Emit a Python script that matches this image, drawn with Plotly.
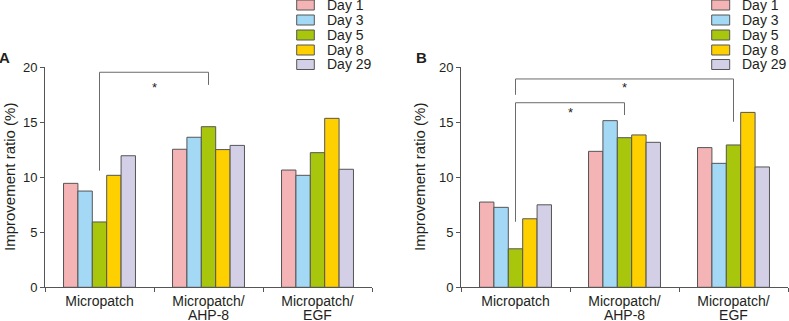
import plotly.graph_objects as go

# ---------------- data ----------------
groups = ["Micropatch", "Micropatch/<br>AHP-8", "Micropatch/<br>EGF"]
days = ["Day 1", "Day 3", "Day 5", "Day 8", "Day 29"]
colors = ["#f4b3b5", "#a3d9f5", "#a8c70c", "#ffd000", "#d3cfe6"]

# Panel A values (rows = days, columns = groups)
a_day1 = [9.45, 12.55, 10.66]
a_day3 = [8.75, 13.64, 10.18]
a_day5 = [5.94, 14.60, 12.24]
a_day8 = [10.18, 12.52, 15.36]
a_day29 = [11.96, 12.90, 10.73]

# Panel B values
b_day1 = [7.75, 12.36, 12.70]
b_day3 = [7.27, 15.15, 11.27]
b_day5 = [3.50, 13.60, 12.94]
b_day8 = [6.23, 13.85, 15.90]
b_day29 = [7.50, 13.18, 10.94]

panel_a = [a_day1, a_day3, a_day5, a_day8, a_day29]
panel_b = [b_day1, b_day3, b_day5, b_day8, b_day29]

yticks = [0, 5, 10, 15, 20]

# significance brackets: (from group idx, to group idx, top, left drop, right drop, star y)
brackets_a = [(0, 1, 19.55, 10.6, 18.4, 18.2)]
brackets_b = [(0, 2, 18.94, 17.5, 15.05, 18.2),
              (0, 1, 16.78, 5.96, 15.66, 15.9)]

# ---------------- figure ----------------
W, H = 789, 321
FONT = "Arial, 'Liberation Sans', sans-serif"
TXT = "#231f20"
AX = "#555555"

fig = go.Figure()

for vals, xa, ya in [(panel_a, "x", "y"), (panel_b, "x2", "y2")]:
    for day, col, v in zip(days, colors, vals):
        fig.add_trace(go.Bar(
            x=groups, y=v, name=day, xaxis=xa, yaxis=ya,
            marker=dict(color=col, line=dict(color=AX, width=1)),
            showlegend=False,
        ))

def px(x):
    return x / W

def py(y):
    return 1 - y / H

# tick text: larger glyphs with tighter line spacing
xticktext = ["<br>".join('<span style="font-size:14px">%s</span>' % part for part in g.split("<br>"))
             for g in groups]

dom_y = [py(287.3), py(67.3)]
axis_common = dict(
    showline=True, linecolor=AX, linewidth=1, ticks="outside", ticklen=4,
    tickcolor=AX, showgrid=False, zeroline=False, automargin=False,
)

xaxis_common = dict(tickson="boundaries", range=[-0.5, 2.5], tickmode="array",
                    tickvals=groups, ticktext=xticktext, ticklabelstandoff=5,
                    tickfont=dict(family=FONT, size=10.5, color=TXT), **axis_common)
yaxis_common = dict(range=[0, 20], tickvals=yticks,
                    tickfont=dict(family=FONT, size=13, color=TXT), **axis_common)

fig.update_layout(
    width=W, height=H, margin=dict(l=0, r=0, t=0, b=0, pad=0, autoexpand=False),
    paper_bgcolor="white", plot_bgcolor="white",
    barmode="group", bargap=0.34, bargroupgap=0,
    showlegend=False,
    xaxis=dict(domain=[px(45), px(372)], anchor="y", **xaxis_common),
    yaxis=dict(domain=dom_y, anchor="x", **yaxis_common),
    xaxis2=dict(domain=[px(461), px(788)], anchor="y2", **xaxis_common),
    yaxis2=dict(domain=dom_y, anchor="x2", **yaxis_common),
)

shapes = []
annotations = []

for brs, xr, yr in [(brackets_a, "x", "y"), (brackets_b, "x2", "y2")]:
    for g0, g1, top, d0, d1, sy in brs:
        line = dict(color="#6b6b6b", width=1)
        shapes.append(dict(type="line", xref=xr, yref=yr, x0=g0, x1=g1, y0=top, y1=top, line=line))
        shapes.append(dict(type="line", xref=xr, yref=yr, x0=g0, x1=g0, y0=top, y1=d0, line=line))
        shapes.append(dict(type="line", xref=xr, yref=yr, x0=g1, x1=g1, y0=top, y1=d1, line=line))
        annotations.append(dict(xref=xr, yref=yr, x=(g0 + g1) / 2, y=sy, text="*",
                                showarrow=False, font=dict(family=FONT, size=13, color=TXT)))

# manual legends
row_y = [5, 20, 35, 50, 64.5]
for bx0, bx1, tx in [(296.7, 314.3, 325), (711.7, 729.7, 740)]:
    for day, col, ry in zip(days, colors, row_y):
        shapes.append(dict(type="rect", xref="paper", yref="paper",
                           x0=px(bx0), x1=px(bx1), y0=py(ry + 5), y1=py(ry - 5),
                           fillcolor=col, line=dict(color=AX, width=1)))
        annotations.append(dict(xref="paper", yref="paper", x=px(tx), y=py(ry),
                                xanchor="left", yanchor="middle", text=day, showarrow=False,
                                font=dict(family=FONT, size=14, color=TXT)))

# axis titles
for x in [10, 420]:
    annotations.append(dict(xref="paper", yref="paper", x=px(x), y=py(177),
                            text="Improvement ratio (%)", textangle=-90, showarrow=False,
                            xanchor="center", yanchor="middle",
                            font=dict(family=FONT, size=15, color=TXT)))

# panel letters
for lab, x in [("A", 4.7), ("B", 421)]:
    annotations.append(dict(xref="paper", yref="paper", x=px(x), y=py(57), text="<b>%s</b>" % lab,
                            showarrow=False, xanchor="center", yanchor="middle",
                            font=dict(family=FONT, size=15, color=TXT)))

fig.update_layout(shapes=shapes, annotations=annotations)
fig.write_html("out.html", config={"displayModeBar": False},
               post_script="document.body.style.margin='0';")
